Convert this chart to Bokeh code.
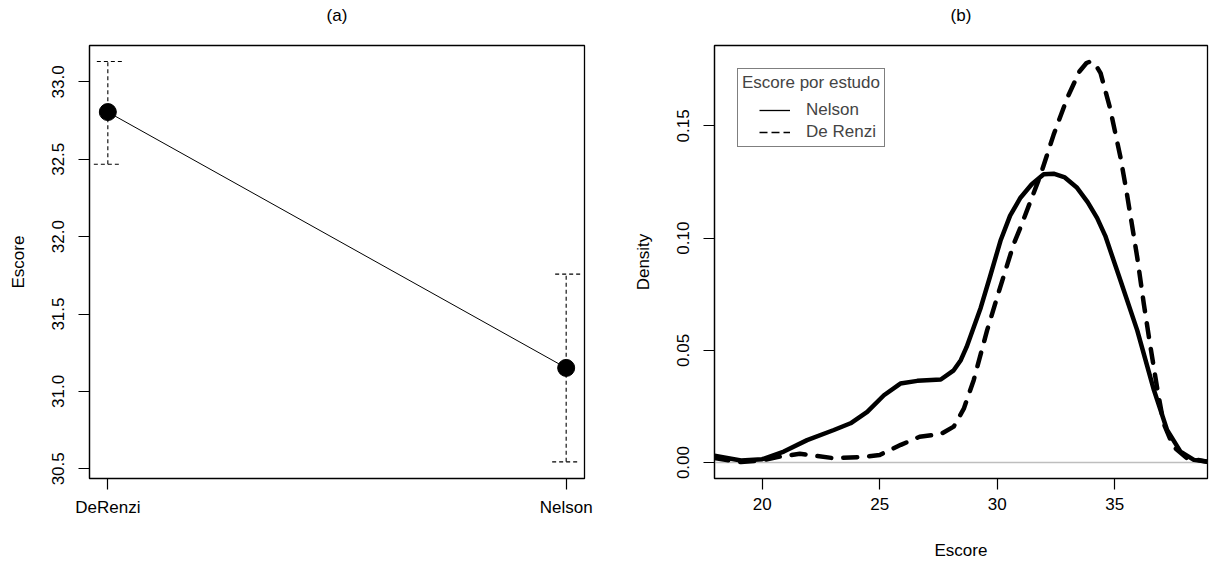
from bokeh.plotting import figure
from bokeh.models import (Range1d, FixedTicker, Whisker, TeeHead, ColumnDataSource,
                          Legend, LegendItem, Span, NumeralTickFormatter, LinearAxis)
from bokeh.layouts import row
from bokeh.embed import file_html
from bokeh.resources import INLINE

# ---------------- data ----------------
studies = ["DeRenzi", "Nelson"]
study_means = [32.805, 31.152]
ci_lower = [32.468, 30.545]
ci_upper = [33.132, 31.758]
y_ticks_a = [30.5, 31.0, 31.5, 32.0, 32.5, 33.0]

nelson_x = [17.97, 18.5, 19.1, 20.0, 20.92, 21.91, 23.05, 23.76, 24.47, 25.18, 25.88,
            26.6, 27.6, 28.15, 28.45, 28.7, 29.3, 29.7, 30.14, 30.55, 30.99, 31.47, 31.98,
            32.4, 32.88, 33.4, 33.85, 34.25, 34.6, 35.25, 35.96, 36.67, 37.23, 37.8, 38.37,
            38.95]
nelson_y = [0.0030, 0.0020, 0.0009, 0.0015, 0.0049, 0.0100, 0.0145, 0.0175, 0.0226, 0.0300,
            0.0352, 0.0364, 0.0370, 0.0411, 0.0456, 0.0515, 0.0690, 0.0830, 0.0988, 0.1100,
            0.1180, 0.1240, 0.1284, 0.1287, 0.1270, 0.1224, 0.1160, 0.1090, 0.1010, 0.0810,
            0.0589, 0.0323, 0.0145, 0.0049, 0.0012, 0.0004]

derenzi_x = [17.97, 19.1, 20.0, 20.78, 21.6, 22.3, 23.0, 24.2, 25.0, 25.9, 26.7, 27.6,
             28.15, 28.58, 29.0, 29.57, 30.14, 30.7, 30.99, 31.84, 32.4, 32.98, 33.5,
             33.8, 33.97, 34.15, 34.4, 34.8, 35.25, 35.5, 35.8, 35.96, 36.24, 36.5, 36.8,
             37.08, 37.5, 38.07, 38.95]
derenzi_y = [0.0020, 0.0002, 0.0010, 0.0027, 0.0039, 0.0030, 0.0020, 0.0024, 0.0034, 0.0079,
             0.0115, 0.0127, 0.0160, 0.0240, 0.0367, 0.0589, 0.0785, 0.0973, 0.1047, 0.1280,
             0.1460, 0.1624, 0.1742, 0.1780, 0.1787, 0.1778, 0.1735, 0.1580, 0.1358, 0.1210,
             0.1018, 0.0914, 0.0707, 0.0530, 0.0337, 0.0175, 0.0071, 0.0020, 0.0004]

x_ticks_b = [20, 25, 30, 35]
y_ticks_b = [0.00, 0.05, 0.10, 0.15]

FONT = "Liberation Sans"
FS = "17px"
NAN = float("nan")


def style(p):
    p.xgrid.visible = False
    p.ygrid.visible = False
    p.outline_line_color = "black"
    p.outline_line_width = 1.3
    p.outline_line_alpha = 1
    p.background_fill_color = "white"
    p.border_fill_color = "white"
    for ax in list(p.xaxis) + list(p.yaxis):
        ax.major_tick_out = 11
        ax.major_tick_in = 0
        ax.minor_tick_out = 0
        ax.minor_tick_in = 0
        ax.major_tick_line_color = "black"
        ax.major_tick_line_width = 1.2
        ax.axis_line_color = "black"
        ax.axis_line_width = 1.2
        ax.major_label_text_font = FONT
        ax.major_label_text_font_size = FS
        ax.major_label_text_color = "black"
        ax.axis_label_text_font = FONT
        ax.axis_label_text_font_size = FS
        ax.axis_label_text_font_style = "normal"
        ax.axis_label_text_color = "black"
    for ax in p.yaxis:
        ax.major_label_orientation = "vertical"
        ax.major_label_standoff = 14
        ax.axis_label_standoff = 22
    for ax in p.xaxis:
        ax.major_label_standoff = 8
        ax.axis_label_standoff = 28


def add_panel_title(p, text):
    # title drawn as the label of a bare axis above the frame
    t = LinearAxis(ticker=FixedTicker(ticks=[]), axis_label=text,
                   axis_line_color=None, major_tick_line_color=None,
                   minor_tick_line_color=None, major_tick_out=0, major_tick_in=0,
                   minor_tick_out=0, minor_tick_in=0, major_label_standoff=0,
                   axis_label_standoff=21, axis_label_text_font=FONT,
                   axis_label_text_font_size=FS, axis_label_text_font_style="normal",
                   axis_label_text_color="black")
    p.add_layout(t, "above")


# ---------------- panel (a) ----------------
src = ColumnDataSource(dict(
    xpos=[i + 1 for i in range(len(studies))],
    mean=study_means, lower=ci_lower, upper=ci_upper))

p1 = figure(width=620, height=562, x_range=Range1d(0.96, 2.04),
            y_range=Range1d(30.4375, 33.235), output_backend="svg",
            toolbar_location=None,
            min_border_left=89, min_border_right=36, min_border_top=45,
            min_border_bottom=83)

wh = Whisker(base="xpos", upper="upper", lower="lower", source=src,
             line_color="black", line_width=1.1, line_dash="4 3",
             upper_head=TeeHead(size=28, line_color="black", line_width=1.1, line_dash="4 3"),
             lower_head=TeeHead(size=28, line_color="black", line_width=1.1, line_dash="4 3"))
wh.level = "underlay"
p1.add_layout(wh)
p1.line(x="xpos", y="mean", source=src, line_color="black", line_width=1)
p1.scatter(x="xpos", y="mean", source=src, size=17, fill_color="black", line_color="black")

p1.xaxis.ticker = FixedTicker(ticks=[i + 1 for i in range(len(studies))])
p1.xaxis.major_label_overrides = {i + 1: s for i, s in enumerate(studies)}
p1.yaxis.ticker = FixedTicker(ticks=y_ticks_a)
p1.yaxis.formatter = NumeralTickFormatter(format="0.0")
p1.yaxis.axis_label = "Escore"
style(p1)
add_panel_title(p1, "(a)")

# ---------------- panel (b) ----------------
p2 = figure(width=589, height=562, x_range=Range1d(17.97, 38.95),
            y_range=Range1d(-0.0071, 0.1858), output_backend="svg",
            toolbar_location=None,
            min_border_left=94, min_border_right=2, min_border_top=45,
            min_border_bottom=83)

zero = Span(location=0, dimension="width", line_color="#bebebe", line_width=1.5)
zero.level = "underlay"
p2.add_layout(zero)

p2.line(nelson_x, nelson_y, line_color="black", line_width=4.5,
        line_join="round", line_cap="round")
p2.line(derenzi_x, derenzi_y, line_color="black", line_width=4.5,
        line_dash="14 12", line_join="round", line_cap="round")

# legend-only renderers (thin sample lines, indented inside the glyph area); NaN -> not drawn in plot
leg_n = p2.line(x=[NAN], y=[NAN], line_color="black", line_width=1.3,
                line_dash="31 1000", line_dash_offset=1014)
leg_d = p2.line(x=[NAN], y=[NAN], line_color="black", line_width=1.3,
                line_dash="8 4 8 4 8 1000", line_dash_offset=1015)

legend = Legend(items=[LegendItem(label="Nelson", renderers=[leg_n]),
                       LegendItem(label="De Renzi", renderers=[leg_d])],
                title="Escore por estudo", location="top_left", margin=23,
                padding=4, spacing=2, glyph_width=48, glyph_height=20,
                label_standoff=16, title_standoff=7,
                border_line_color="black", border_line_width=1.3,
                label_text_font=FONT, label_text_font_size=FS,
                title_text_font=FONT, title_text_font_size=FS,
                title_text_font_style="normal", background_fill_alpha=1)
p2.add_layout(legend)

p2.xaxis.ticker = FixedTicker(ticks=x_ticks_b)
p2.yaxis.ticker = FixedTicker(ticks=y_ticks_b)
p2.yaxis.formatter = NumeralTickFormatter(format="0.00")
p2.xaxis.axis_label = "Escore"
p2.yaxis.axis_label = "Density"
style(p2)
add_panel_title(p2, "(b)")

layout = row(p1, p2)
open("out.html", "w").write(file_html(layout, INLINE))
